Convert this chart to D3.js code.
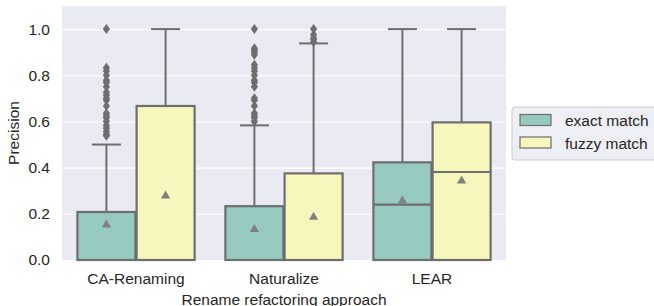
<!DOCTYPE html>
<html>
<head>
<meta charset="utf-8">
<script src="https://cdn.jsdelivr.net/npm/d3@7"></script>
<style>
  body { margin: 0; background: #fff; }
  text { font-family: "Liberation Sans", Arial, sans-serif; fill: #262626; }
</style>
</head>
<body>
<div id="chart"></div>
<script>
var w = 654, h = 306;

// categories and hue groups
var approaches = ["CA-Renaming", "Naturalize", "LEAR"];
var matchTypes = ["exact match", "fuzzy match"];
var yTicks = [0.0, 0.2, 0.4, 0.6, 0.8, 1.0];

// box statistics, one entry per approach/match type
var q1 = [[0, 0], [0, 0], [0, 0]];
var medians = [[0, 0], [0, 0], [0.24, 0.381]];
var q3 = [[0.208, 0.667], [0.233, 0.375], [0.423, 0.596]];
var whiskLow = [[0, 0], [0, 0], [0, 0]];
var whiskHigh = [[0.5, 1.0], [0.583, 0.938], [1.0, 1.0]];
var means = [[0.156, 0.282], [0.136, 0.19], [0.26, 0.346]];
var fliers = [
  [[0.538, 0.545, 0.556, 0.571, 0.583, 0.6, 0.615, 0.625, 0.636, 0.667, 0.692, 0.7,
    0.714, 0.727, 0.75, 0.769, 0.778, 0.8, 0.818, 0.833, 1.0], []],
  [[0.6, 0.615, 0.625, 0.636, 0.667, 0.692, 0.7, 0.75, 0.769, 0.778, 0.8, 0.818,
    0.833, 0.846, 0.889, 0.9, 0.909, 0.917, 1.0], [0.944, 0.955, 0.96, 0.975, 1.0]],
  [[], []]
];

var colors = ["#96cac1", "#f6f6bd"];
var lineColor = "#6e6e6e";

var margin = { left: 62, right: 148, top: 6, bottom: 46 };

var svg = d3.select("#chart").append("svg")
    .attr("width", w).attr("height", h);

var x = d3.scaleBand().domain(approaches)
    .range([margin.left, w - margin.right]).paddingInner(0).paddingOuter(0);
var y = d3.scaleLinear().domain([0, 1.1]).range([h - margin.bottom, margin.top]);

// background and grid
svg.append("rect")
    .attr("x", margin.left).attr("y", margin.top)
    .attr("width", w - margin.left - margin.right)
    .attr("height", h - margin.top - margin.bottom)
    .attr("fill", "#eaeaf2");

var yAxis = svg.append("g")
    .attr("transform", "translate(" + margin.left + ",0)")
    .call(d3.axisLeft(y).tickValues(yTicks).tickFormat(d3.format(".1f"))
        .tickSize(-(w - margin.left - margin.right)).tickPadding(12));
yAxis.select(".domain").remove();
yAxis.selectAll("line").attr("stroke", "#fff").attr("stroke-width", 1.1);
yAxis.selectAll("text").attr("font-size", "15.5px").attr("fill", "#262626")
    .style("font-family", "'Liberation Sans', Arial, sans-serif");

var xAxis = svg.append("g")
    .attr("transform", "translate(0," + (h - margin.bottom) + ")")
    .call(d3.axisBottom(x).tickSize(0).tickPadding(13));
xAxis.select(".domain").remove();
xAxis.selectAll("text").attr("font-size", "15.5px").attr("fill", "#262626")
    .style("font-family", "'Liberation Sans', Arial, sans-serif");

// hue sub-band inside each category (seaborn width 0.8)
var groupW = x.bandwidth() * 0.8;
var hueX = d3.scaleBand().domain(matchTypes).range([-groupW / 2, groupW / 2]);
var boxW = hueX.bandwidth() * 0.98;

var boxes = [];
approaches.forEach(function (a, i) {
  matchTypes.forEach(function (m, j) {
    boxes.push({ a: a, m: m, j: j, q1: q1[i][j], med: medians[i][j], q3: q3[i][j],
      lo: whiskLow[i][j], hi: whiskHigh[i][j], mean: means[i][j], fl: fliers[i][j] });
  });
});

var g = svg.append("g");
boxes.forEach(function (d) {
  var cx = x(d.a) + x.bandwidth() / 2 + hueX(d.m) + hueX.bandwidth() / 2;
  var bg = g.append("g");
  // whiskers
  bg.append("line").attr("x1", cx).attr("x2", cx)
      .attr("y1", y(d.q3)).attr("y2", y(d.hi))
      .attr("stroke", lineColor).attr("stroke-width", 2);
  bg.append("line").attr("x1", cx - boxW / 4).attr("x2", cx + boxW / 4)
      .attr("y1", y(d.hi)).attr("y2", y(d.hi))
      .attr("stroke", lineColor).attr("stroke-width", 2);
  // box
  bg.append("rect")
      .attr("x", cx - boxW / 2).attr("y", y(d.q3))
      .attr("width", boxW).attr("height", y(d.q1) - y(d.q3))
      .attr("fill", colors[d.j]).attr("stroke", lineColor).attr("stroke-width", 2.2);
  // median
  bg.append("line").attr("x1", cx - boxW / 2).attr("x2", cx + boxW / 2)
      .attr("y1", y(d.med)).attr("y2", y(d.med))
      .attr("stroke", lineColor).attr("stroke-width", 2.2);
  // fliers (thin diamonds)
  bg.selectAll("path.flier").data(d.fl).enter().append("path")
      .attr("class", "flier")
      .attr("d", function (v) {
        var py = y(v);
        return "M" + cx + "," + (py - 5) + "L" + (cx + 3.6) + "," + py +
          "L" + cx + "," + (py + 5) + "L" + (cx - 3.6) + "," + py + "Z";
      })
      .attr("fill", lineColor);
  // mean triangle
  var my = y(d.mean);
  bg.append("path")
      .attr("d", "M" + cx + "," + (my - 4.5) + "L" + (cx + 4.6) + "," + (my + 3.5) +
        "L" + (cx - 4.6) + "," + (my + 3.5) + "Z")
      .attr("fill", "#808080");
});

// axis titles
svg.append("text")
    .attr("x", x.range()[0] + (x.range()[1] - x.range()[0]) / 2)
    .attr("y", 305)
    .attr("text-anchor", "middle").attr("font-size", "15.5px")
    .text("Rename refactoring approach");

svg.append("text")
    .attr("transform", "translate(19," + (margin.top + (h - margin.top - margin.bottom) / 2) + ") rotate(-90)")
    .attr("text-anchor", "middle").attr("font-size", "15.5px")
    .text("Precision");

// legend
var legend = svg.append("g").attr("transform", "translate(512,107)");
legend.append("rect")
    .attr("x", 0).attr("y", 0).attr("width", 160).attr("height", 53)
    .attr("rx", 3).attr("fill", "#eaeaf2").attr("fill-opacity", 0.8)
    .attr("stroke", "#cccccc").attr("stroke-width", 1);
matchTypes.forEach(function (m, j) {
  legend.append("rect")
      .attr("x", 8).attr("y", 7.5 + j * 22.5).attr("width", 31).attr("height", 11)
      .attr("fill", colors[j]).attr("stroke", lineColor).attr("stroke-width", 1.2);
  legend.append("text")
      .attr("x", 53).attr("y", 19 + j * 22.5)
      .attr("font-size", "15.5px")
      .text(m);
});
</script>
</body>
</html>
